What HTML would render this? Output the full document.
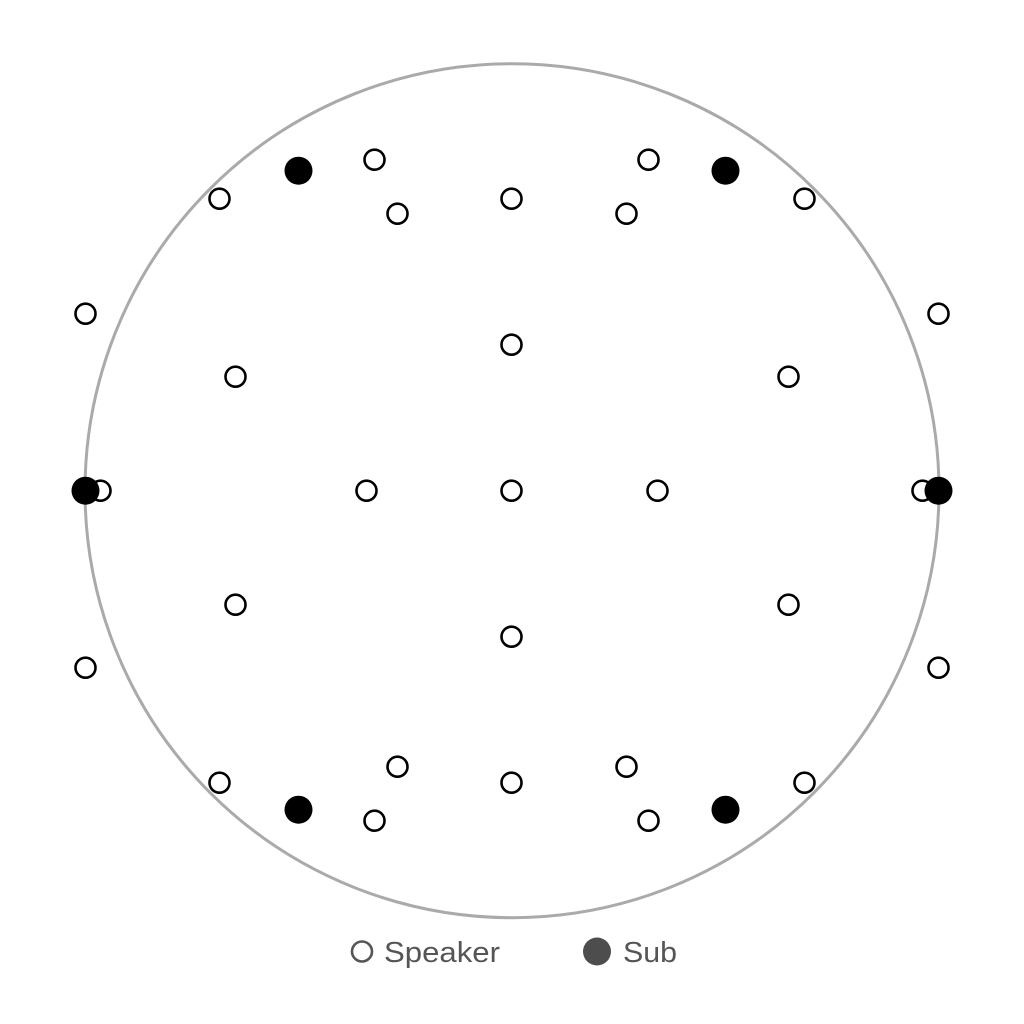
<!DOCTYPE html>
<html><head><meta charset="utf-8"><style>html,body{margin:0;padding:0;background:#fff}svg{display:block}</style></head>
<body>
<svg width="1024" height="1024" viewBox="0 0 1024 1024" xmlns="http://www.w3.org/2000/svg">
<rect width="1024" height="1024" fill="#fff"/>
<g transform="translate(0.5,0.7)">
<circle cx="511.5" cy="490" r="427" fill="none" stroke="#aaa" stroke-width="3"/>
<g fill="#fff" stroke="#000" stroke-width="2.6">
<circle cx="374" cy="159" r="10"/><circle cx="648" cy="159" r="10"/>
<circle cx="219" cy="198" r="10"/><circle cx="511" cy="198" r="10"/><circle cx="804" cy="198" r="10"/>
<circle cx="397" cy="213" r="10"/><circle cx="626" cy="213" r="10"/>
<circle cx="85" cy="313" r="10"/><circle cx="938" cy="313" r="10"/>
<circle cx="511" cy="344" r="10"/>
<circle cx="235" cy="376" r="10"/><circle cx="788" cy="376" r="10"/>
<circle cx="100" cy="490" r="10"/><circle cx="366" cy="490" r="10"/><circle cx="511" cy="490" r="10"/><circle cx="657" cy="490" r="10"/><circle cx="922" cy="490" r="10"/>
<circle cx="235" cy="604" r="10"/><circle cx="788" cy="604" r="10"/>
<circle cx="511" cy="636" r="10"/>
<circle cx="85" cy="667" r="10"/><circle cx="938" cy="667" r="10"/>
<circle cx="397" cy="766" r="10"/><circle cx="626" cy="766" r="10"/>
<circle cx="219" cy="782" r="10"/><circle cx="511" cy="782" r="10"/><circle cx="804" cy="782" r="10"/>
<circle cx="374" cy="820" r="10"/><circle cx="648" cy="820" r="10"/>
</g>
<g fill="#000">
<circle cx="298" cy="170" r="14"/><circle cx="725" cy="170" r="14"/>
<circle cx="85" cy="490" r="14"/><circle cx="938" cy="490" r="14"/>
<circle cx="298" cy="809" r="14"/><circle cx="725" cy="809" r="14"/>
</g>
</g>
<circle cx="362" cy="951.5" r="10" fill="#fff" stroke="#555" stroke-width="2.6"/>
<text x="384" y="962" font-family="Liberation Sans, sans-serif" font-size="29" fill="#555" textLength="116" lengthAdjust="spacingAndGlyphs">Speaker</text>
<circle cx="597" cy="951.5" r="14" fill="#4d4d4d"/>
<text x="623" y="962" font-family="Liberation Sans, sans-serif" font-size="29" fill="#555" textLength="54" lengthAdjust="spacingAndGlyphs">Sub</text>
</svg>
</body></html>
